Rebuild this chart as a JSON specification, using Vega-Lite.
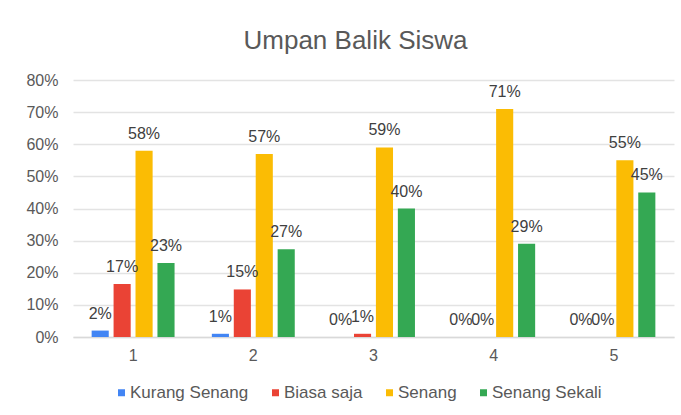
{
  "$schema": "https://vega.github.io/schema/vega-lite/v6.json",
  "autosize": "none",
  "width": 601,
  "height": 257,
  "padding": {"left": 73, "top": 80, "right": 7, "bottom": 78},
  "background": "white",
  "title": {
    "text": "Umpan Balik Siswa",
    "font": "Liberation Sans",
    "fontSize": 26,
    "fontWeight": "normal",
    "color": "#595959",
    "anchor": "middle",
    "frame": "group",
    "baseline": "alphabetic",
    "offset": -3,
    "dx": -18
  },
  "data": {
    "values": [
      {"cat": "1", "series": "Kurang Senang", "value": 0.02},
      {"cat": "1", "series": "Biasa saja", "value": 0.165},
      {"cat": "1", "series": "Senang", "value": 0.58},
      {"cat": "1", "series": "Senang Sekali", "value": 0.23},
      {"cat": "2", "series": "Kurang Senang", "value": 0.01},
      {"cat": "2", "series": "Biasa saja", "value": 0.148},
      {"cat": "2", "series": "Senang", "value": 0.57},
      {"cat": "2", "series": "Senang Sekali", "value": 0.273},
      {"cat": "3", "series": "Kurang Senang", "value": 0},
      {"cat": "3", "series": "Biasa saja", "value": 0.01},
      {"cat": "3", "series": "Senang", "value": 0.59},
      {"cat": "3", "series": "Senang Sekali", "value": 0.40},
      {"cat": "4", "series": "Kurang Senang", "value": 0},
      {"cat": "4", "series": "Biasa saja", "value": 0},
      {"cat": "4", "series": "Senang", "value": 0.71},
      {"cat": "4", "series": "Senang Sekali", "value": 0.29},
      {"cat": "5", "series": "Kurang Senang", "value": 0},
      {"cat": "5", "series": "Biasa saja", "value": 0},
      {"cat": "5", "series": "Senang", "value": 0.55},
      {"cat": "5", "series": "Senang Sekali", "value": 0.45}
    ]
  },
  "encoding": {
    "x": {
      "field": "cat",
      "type": "nominal",
      "scale": {"paddingInner": 0.27, "paddingOuter": 0.135},
      "axis": {
        "title": null,
        "labelAngle": 0,
        "ticks": false,
        "labelPadding": 10,
        "labelFont": "Liberation Sans",
        "labelFontSize": 16,
        "labelColor": "#595959",
        "domainColor": "#d9d9d9",
        "domainWidth": 1.5
      }
    },
    "xOffset": {
      "field": "series",
      "type": "nominal",
      "sort": ["Kurang Senang", "Biasa saja", "Senang", "Senang Sekali"],
      "scale": {"paddingInner": 0.22, "paddingOuter": 0.11}
    },
    "y": {
      "field": "value",
      "type": "quantitative",
      "scale": {"domain": [0, 0.8]},
      "axis": {
        "title": null,
        "format": ".0%",
        "values": [0, 0.1, 0.2, 0.3, 0.4, 0.5, 0.6, 0.7, 0.8],
        "ticks": false,
        "domain": false,
        "labelPadding": 15,
        "labelFont": "Liberation Sans",
        "labelFontSize": 16,
        "labelColor": "#595959",
        "gridColor": "#e3e3e3",
        "gridWidth": 1.5
      }
    }
  },
  "layer": [
    {
      "mark": {"type": "bar"},
      "encoding": {
        "color": {
          "field": "series",
          "type": "nominal",
          "sort": ["Kurang Senang", "Biasa saja", "Senang", "Senang Sekali"],
          "scale": {
            "domain": ["Kurang Senang", "Biasa saja", "Senang", "Senang Sekali"],
            "range": ["#4285F4", "#EA4335", "#FBBC04", "#34A853"]
          },
          "legend": {
            "title": null,
            "orient": "none",
            "direction": "horizontal",
            "legendX": 40,
            "legendY": 304,
            "symbolType": "square",
            "symbolSize": 49,
            "symbolStrokeWidth": 0,
            "labelFont": "Liberation Sans",
            "labelFontSize": 17,
            "labelColor": "#595959",
            "labelOffset": 0,
            "columnPadding": 18,
            "padding": 0
          }
        }
      }
    },
    {
      "mark": {
        "type": "text",
        "baseline": "alphabetic",
        "dy": -12,
        "font": "Liberation Sans",
        "fontSize": 16,
        "color": "#404040"
      },
      "encoding": {
        "text": {"field": "value", "type": "quantitative", "format": ".0%"}
      }
    }
  ],
  "config": {
    "view": {"stroke": null}
  }
}
